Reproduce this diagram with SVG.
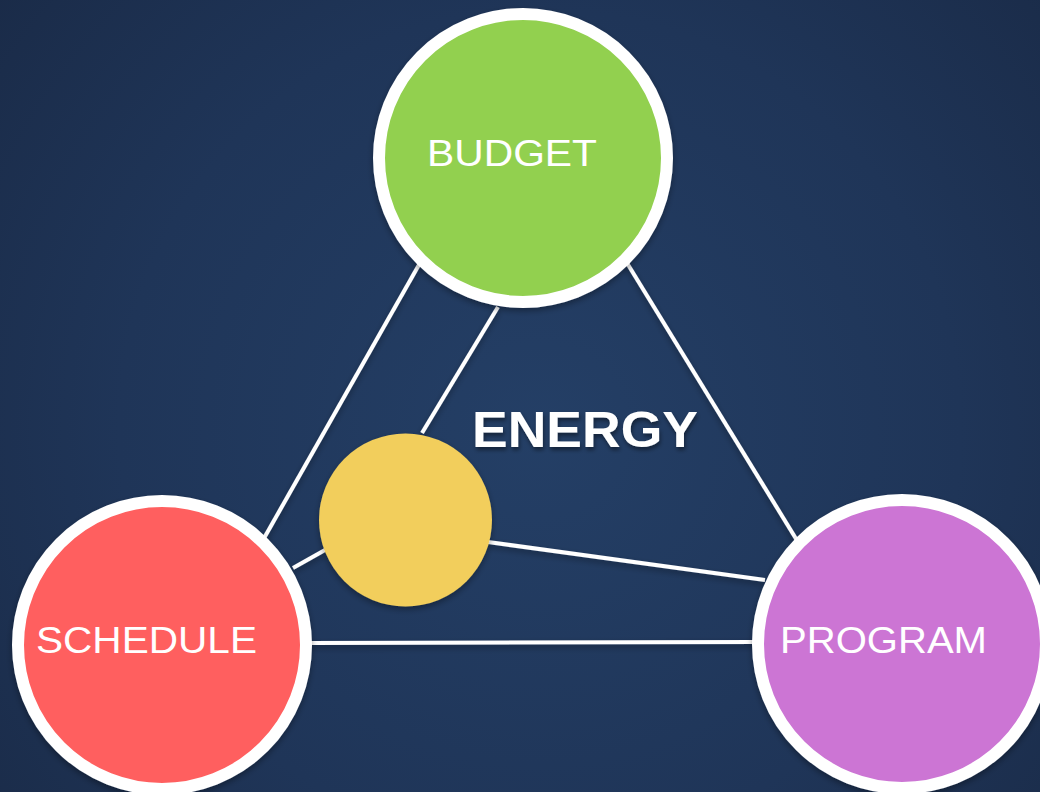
<svg xmlns="http://www.w3.org/2000/svg" width="1040" height="792" viewBox="0 0 1040 792">
<defs>
<radialGradient id="bg" cx="540" cy="430" r="700" gradientUnits="userSpaceOnUse">
<stop offset="0" stop-color="#243f66"/>
<stop offset="0.6" stop-color="#1f3558"/>
<stop offset="1" stop-color="#1a2b48"/>
</radialGradient>
<filter id="sh" x="-20%" y="-20%" width="140%" height="140%">
<feDropShadow dx="0" dy="3" stdDeviation="3" flood-color="#000" flood-opacity="0.35"/>
</filter>
<filter id="tsh" x="-10%" y="-30%" width="120%" height="160%">
<feDropShadow dx="1" dy="3" stdDeviation="2" flood-color="#000" flood-opacity="0.45"/>
</filter>
</defs>
<style>
.ring{stroke:#ffffff;stroke-width:12;filter:url(#sh)}
.lbl{font-family:"Liberation Sans",Arial,sans-serif;font-weight:400;font-size:36px;fill:#ffffff}
.conn line{stroke:#ffffff;stroke-width:4;stroke-linecap:butt}
</style>
<rect x="0" y="0" width="1040" height="792" fill="url(#bg)"/>
<g id="connectors" class="conn" filter="url(#sh)">
<line x1="420" y1="263" x2="263" y2="540"/>
<line x1="498" y1="307" x2="422" y2="433"/>
<line x1="627" y1="263" x2="798" y2="542"/>
<line x1="293" y1="568" x2="325" y2="550"/>
<line x1="488" y1="542" x2="765" y2="580"/>
<line x1="310" y1="643" x2="757" y2="642"/>
</g>
<g id="budget">
<circle class="ring" cx="523" cy="158" r="144" fill="#92d050"/>
<text class="lbl" x="427" y="166" textLength="170" lengthAdjust="spacingAndGlyphs">BUDGET</text>
</g>
<g id="schedule">
<circle class="ring" cx="162" cy="645" r="144" fill="#ff5f5f"/>
<text class="lbl" x="36" y="653" textLength="221" lengthAdjust="spacingAndGlyphs">SCHEDULE</text>
</g>
<g id="program">
<circle class="ring" cx="902" cy="644" r="144" fill="#cc75d4"/>
<text class="lbl" x="780" y="653" textLength="207" lengthAdjust="spacingAndGlyphs">PROGRAM</text>
</g>
<g id="energy-node">
<circle cx="405.5" cy="520" r="86.5" fill="#f2ce5c" filter="url(#sh)"/>
</g>
<g id="energy-label">
<text x="472" y="447" textLength="226" lengthAdjust="spacingAndGlyphs" font-family="'Liberation Sans',Arial,sans-serif" font-weight="700" font-size="50" fill="#ffffff" filter="url(#tsh)">ENERGY</text>
</g>
</svg>
